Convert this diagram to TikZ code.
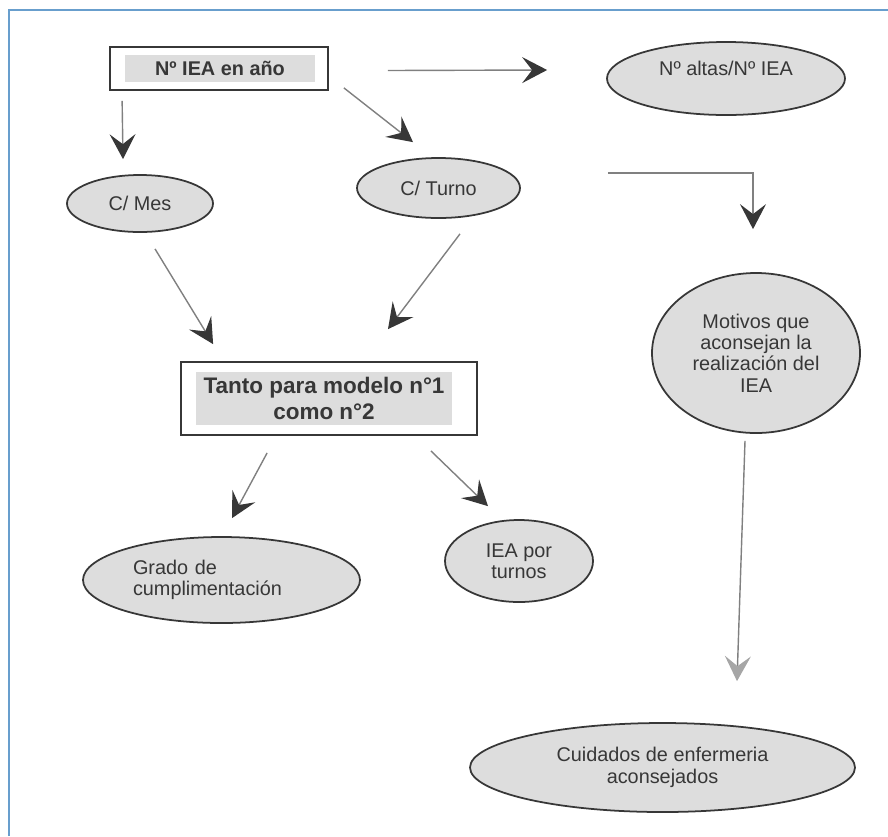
\documentclass[tikz,border=0pt]{standalone}
\usepackage{fontspec}
\setmainfont{Liberation Sans}
\usetikzlibrary{shapes.geometric,arrows.meta,positioning}
\definecolor{edgeblue}{RGB}{104,158,205}
\definecolor{shade}{RGB}{221,221,221}
\definecolor{ink}{RGB}{55,55,55}
\newcommand\pix{0.02cm}
\tikzset{
	x=0.02cm, y=-0.02cm, % one unit is one pixel of the scan, y runs downwards
	every node/.style={text=ink, font=\fontsize{11.3}{12.2}\selectfont}, % plain labels
	sz/.style 2 args={minimum width=#1*\pix, minimum height=#2*\pix}, % size in pixels
	bubble/.style={ellipse, draw=ink, line width=1pt, fill=shade, inner sep=0pt, align=center}, % grey ovals
	frame/.style={draw=ink, line width=1pt, fill=white, inner sep=0pt}, % outer box of a title
	title/.style={fill=shade, inner sep=0pt, align=center, font=\fontsize{11.3}{14}\selectfont\bfseries}, % grey band inside
	link/.style={draw=gray, line width=0.8pt, -{Stealth[length=5mm,width=5.2mm,inset=2mm,color=ink]}}, % the arrows
}
\begin{document}
\begin{tikzpicture}
	\useasboundingbox (0,0) rectangle (888,836);
	\draw[edgeblue, line width=1.6pt] (9,836) -- (9,10) -- (888,10);

	% boxes
	\node[frame, sz={218}{43}] (anio frame) at (219,68.5) {};
	\node[title, sz={190}{27}] (anio) at (220,68.5) {Nº IEA en año};
	\node[frame, sz={296}{73}] (tanto frame) at (329,398.5) {};
	\node[title, sz={256}{53}, font=\fontsize{12.8}{15.3}\selectfont\bfseries] (tanto) at (324,398.5) {Tanto para modelo n°1\\como n°2};

	% ovals
	\node[bubble, sz={146}{57}] (mes) at (140,203.5) {C/ Mes};
	\node[bubble, sz={163}{60}] (turno) at (438.5,188) {C/ Turno};
	\node[bubble, sz={238}{73}, text depth=20*\pix] (altas) at (726,78.5) {Nº altas/Nº IEA};
	\node[bubble, sz={208}{160}] (motivos) at (756,353) {Motivos que\\aconsejan la\\realización del\\IEA};
	\node[bubble, sz={277}{86}, text width=177*\pix, align=left] (grado) at (221.5,580) {Grado de\\cumplimentación};
	\node[bubble, sz={148}{82}] (turnos) at (519,561) {IEA por\\turnos};
	\node[bubble, sz={385}{89}] (cuidados) at (662.5,767.5) {Cuidados de enfermeria\\aconsejados};

	% arrows
	\draw[link] ([shift={(13,10)}]anio frame.south west) -- ([shift={(-17,-15)}]mes.north);
	\draw[link] ([shift={(15,-3)}]anio frame.south east) -- ([shift={(-25.5,-15)}]turno.north);
	\draw[link] ([shift={(59,2)}]anio frame.east) -- ([shift={(-59,-8.5)}]altas.west);
	\draw[link] ([shift={(87,-15)}]turno.east) -| ([shift={(-3,-43)}]motivos.north);
	\draw[link] ([shift={(15,16)}]mes.south) -- ([shift={(33,-17)}]tanto frame.north west);
	\draw[link] ([shift={(21.5,15)}]turno.south) -- ([shift={(59,-32)}]tanto frame.north);
	\draw[link] ([shift={(87,17)}]tanto frame.south west) -- ([shift={(10.5,-18)}]grado.north);
	\draw[link] ([shift={(-47,15)}]tanto frame.south east) -- ([shift={(-31,-13)}]turnos.north);
	\draw[link, -{Stealth[length=5mm,width=5.2mm,inset=2mm,color=gray!70]}] ([shift={(-11,7)}]motivos.south) -- ([shift={(74.5,-41)}]cuidados.north);
\end{tikzpicture}
\end{document}
